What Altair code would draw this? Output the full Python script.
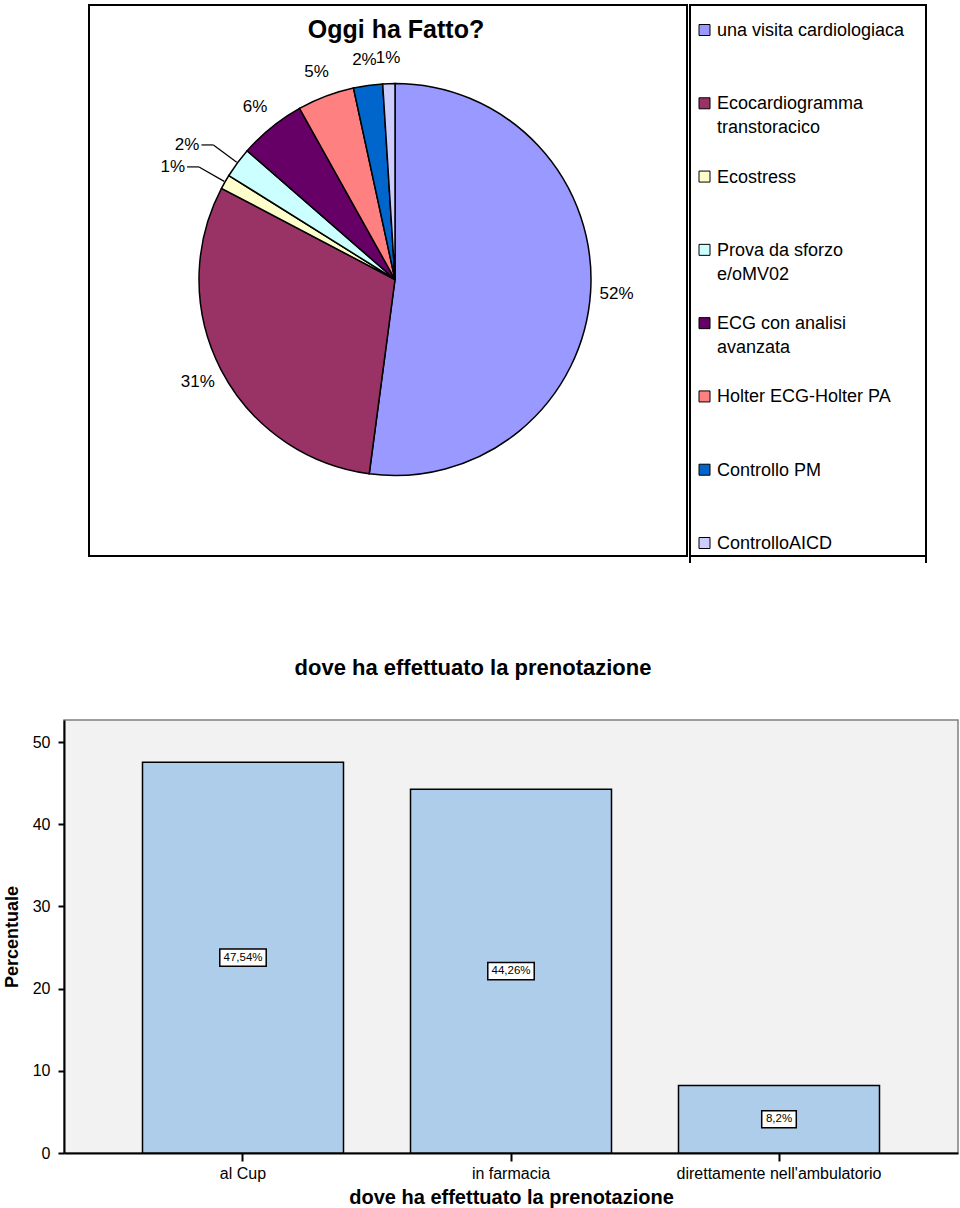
import altair as alt
import pandas as pd

# ---------------- data ----------------
exams = [
    "una visita cardiologiaca",
    "Ecocardiogramma transtoracico",
    "Ecostress",
    "Prova da sforzo e/oMV02",
    "ECG con analisi avanzata",
    "Holter ECG-Holter PA",
    "Controllo PM",
    "ControlloAICD",
]
legend_text = [
    "una visita cardiologiaca",
    "Ecocardiogramma\ntranstoracico",
    "Ecostress",
    "Prova da sforzo\ne/oMV02",
    "ECG con analisi\navanzata",
    "Holter ECG-Holter PA",
    "Controllo PM",
    "ControlloAICD",
]
shares = [52.1, 30.6, 1.2, 2.5, 5.5, 4.7, 2.4, 1.0]
pie_text = ["52%", "31%", "1%", "2%", "6%", "5%", "2%", "1%"]
slice_colors = ["#9999FF", "#993366", "#FFFFCC", "#CCFFFF",
                "#660066", "#FF8080", "#0066CC", "#CCCCFF"]

places = ["al Cup", "in farmacia", "direttamente nell'ambulatorio"]
percents = [47.54, 44.26, 8.2]
pct_text = ["47,54%", "44,26%", "8,2%"]

FONT = "Liberation Sans"

pie_df = pd.DataFrame({"idx": list(range(len(exams))), "cat": exams,
                       "leg": legend_text, "val": shares, "lab": pie_text})
bar_df = pd.DataFrame({"place": places, "pct": percents, "lab": pct_text})
one = pd.DataFrame({"k": [0]})

# ---------------- pie panel ----------------
CX, CY, R = 306, 274.5, 196
color = alt.Color("cat:N", scale=alt.Scale(domain=exams, range=slice_colors), legend=None)
theta = alt.Theta("val:Q", stack=True)
order = alt.Order("idx:Q", sort="ascending")
leader_set = "indexof(['Ecostress', 'Prova da sforzo e/oMV02'], datum.cat) >= 0"

pie_base = alt.Chart(pie_df)
arcs = pie_base.mark_arc(radius=R, stroke="black", strokeWidth=1.5).encode(
    theta=theta, color=color, order=order, x=alt.value(CX), y=alt.value(CY))

labels = pie_base.transform_calculate(
    show=f"({leader_set}) ? '' : datum.lab"
).mark_text(radius=222, fontSize=17, font=FONT, color="black").encode(
    theta=theta, order=order, text="show:N", x=alt.value(CX), y=alt.value(CY))

lead_base = pie_base.transform_window(
    cum="sum(val)", sort=[alt.SortField("idx")], frame=[None, 0]
).transform_joinaggregate(tot="sum(val)").transform_calculate(
    mid="2*PI*(datum.cum - datum.val/2)/datum.tot"
).transform_calculate(
    ex=f"{CX} + {R + 1}*sin(datum.mid)",
    ey=f"{CY} - {R + 1}*cos(datum.mid)",
    bx=f"{CX} + 226*sin(datum.mid)",
    by=f"{CY} - 226*cos(datum.mid)",
).transform_calculate(
    hx="datum.bx - 12",
    tx="datum.bx - 14",
).transform_filter(leader_set)

lead_diag = lead_base.mark_rule(color="black", strokeWidth=1.2).encode(
    x=alt.X("ex:Q", scale=None), y=alt.Y("ey:Q", scale=None),
    x2="bx:Q", y2="by:Q")
lead_hor = lead_base.mark_rule(color="black", strokeWidth=1.2).encode(
    x=alt.X("bx:Q", scale=None), y=alt.Y("by:Q", scale=None), x2="hx:Q")
lead_text = lead_base.mark_text(align="right", baseline="middle", fontSize=17,
                                font=FONT, color="black").encode(
    x=alt.X("tx:Q", scale=None), y=alt.Y("by:Q", scale=None), text="lab:N")

pie_title = alt.Chart(pd.DataFrame({"t": ["Oggi ha Fatto?"]})).mark_text(
    fontSize=25, fontWeight="bold", font=FONT, color="black", baseline="middle"
).encode(text="t:N", x=alt.value(307), y=alt.value(25))

pie_panel = alt.layer(arcs, labels, lead_diag, lead_hor, lead_text, pie_title).properties(
    width=598, height=551,
    view=alt.ViewBackground(stroke="black", strokeWidth=2))

# ---------------- legend panel ----------------
ly = alt.Y("cat:N", sort=exams,
           scale=alt.Scale(type="point", range=[25, 538], padding=0), axis=None)
sq = alt.Chart(pie_df).mark_point(shape="square", size=121, filled=True,
                                  stroke="black", strokeWidth=1, opacity=1).encode(
    y=ly, x=alt.value(14.5), color=color)
lt = alt.Chart(pie_df).mark_text(align="left", baseline="alphabetic", dy=6,
                                 fontSize=18, font=FONT, lineBreak="\n",
                                 lineHeight=24, color="black").encode(
    y=ly, x=alt.value(27), text="leg:N")
ext_l = alt.Chart(one).mark_rule(color="black", strokeWidth=2).encode(
    x=alt.value(0), y=alt.value(551), y2=alt.value(558))
ext_r = alt.Chart(one).mark_rule(color="black", strokeWidth=2).encode(
    x=alt.value(236), y=alt.value(551), y2=alt.value(558))
legend_panel = alt.layer(sq, lt, ext_l, ext_r).properties(
    width=236, height=551,
    view=alt.ViewBackground(stroke="black", strokeWidth=2))

spacer = alt.Chart(one).mark_point(opacity=0, size=1).encode(
    x=alt.value(1), y=alt.value(1)).properties(
    width=23, height=20, view=alt.ViewBackground(stroke="white", strokeWidth=0.5))

top = alt.hconcat(spacer, pie_panel, legend_panel, spacing=0)

# ---------------- bar panel ----------------
xb = alt.X("place:N", sort=places,
           scale=alt.Scale(paddingInner=0.25, paddingOuter=0.2929),
           axis=alt.Axis(title="dove ha effettuato la prenotazione", labelAngle=0,
                         labelFontSize=16, labelColor="black", labelPadding=4,
                         labelLimit=500,
                         tickSize=8, tickWidth=2, tickColor="black",
                         domainColor="black", domainWidth=2,
                         titleFontSize=20, titleFontWeight="bold",
                         titleColor="black", titlePadding=6))
yb = alt.Y("pct:Q", scale=alt.Scale(domain=[0, 52.68], nice=False),
           axis=alt.Axis(title="Percentuale", values=[0, 10, 20, 30, 40, 50],
                         grid=False, labelFontSize=16, labelColor="black",
                         labelPadding=8, tickSize=6, tickWidth=2, tickColor="black",
                         domainColor="black", domainWidth=2,
                         titleFontSize=18, titleFontWeight="bold",
                         titleColor="black", titlePadding=11))

bars = alt.Chart(bar_df).mark_bar(color="#ADCDEB", stroke="black",
                                  strokeWidth=1.5).encode(x=xb, y=yb)

lab_base = alt.Chart(bar_df).transform_calculate(
    mid="datum.pct/2",
    w="0.33*length(datum.lab) + 0.6",
).transform_calculate(
    shp="'M' + (-datum.w) + ',-0.95L' + datum.w + ',-0.95L' + datum.w + ',0.95L' + (-datum.w) + ',0.95Z'"
)
boxes = lab_base.mark_point(filled=True, fill="white", stroke="black",
                            strokeWidth=1.5, size=324, opacity=1).encode(
    x=xb, y=alt.Y("mid:Q", title="Percentuale"),
    shape=alt.Shape("shp:N", scale=None))
btext = lab_base.mark_text(fontSize=11.5, font=FONT, color="black").encode(
    x=xb, y=alt.Y("mid:Q", title="Percentuale"), text="lab:N")

bar_panel = alt.layer(bars, boxes, btext).properties(
    width=894, height=433,
    title=alt.TitleParams("dove ha effettuato la prenotazione", fontSize=22,
                          fontWeight="bold", anchor="middle", offset=40, dx=-38,
                          color="black", font=FONT),
    view=alt.ViewBackground(fill="#F2F2F2", stroke="#808080", strokeWidth=1.5))

chart = alt.vconcat(top, bar_panel, spacing=91).configure(
    padding={"left": 2, "top": 4, "right": 0, "bottom": 0},
    background="white",
).configure_view(stroke="transparent").configure_axis(
    labelFont=FONT, titleFont=FONT
).configure_title(font=FONT).configure_text(font=FONT)

chart.save("out.html", embed_options={"renderer": "svg", "actions": False})
